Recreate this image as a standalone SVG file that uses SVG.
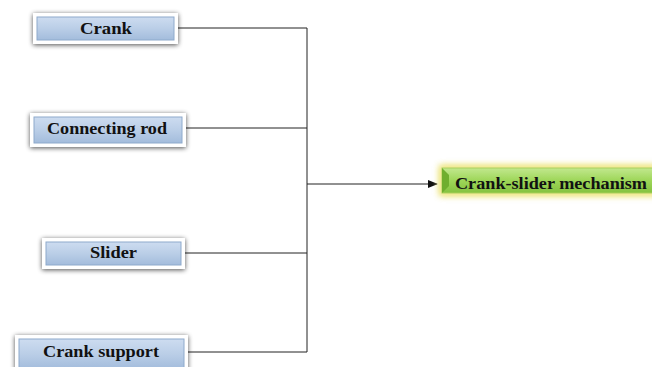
<svg xmlns="http://www.w3.org/2000/svg" width="652" height="367" viewBox="0 0 652 367">
<style>
.frame{fill:#ffffff;filter:url(#sh)}
.blue{fill:url(#bg);stroke:#8eaacc;stroke-width:1}
.lbl{font-family:"Liberation Serif","Times New Roman",serif;font-weight:bold;font-size:16px;fill:#111;text-anchor:middle}
.conn{fill:none;stroke:#222;stroke-width:1}
</style>
<defs>
<filter id="sh" x="-20%" y="-50%" width="140%" height="200%">
<feGaussianBlur in="SourceAlpha" stdDeviation="2.5"/>
<feOffset dx="0" dy="1" result="b"/>
<feComponentTransfer><feFuncA type="linear" slope="0.7"/></feComponentTransfer>
<feMerge><feMergeNode/><feMergeNode in="SourceGraphic"/></feMerge>
</filter>
<filter id="glow" x="-20%" y="-80%" width="140%" height="260%">
<feFlood flood-color="#efe78a"/>
<feComposite operator="in" in2="SourceAlpha"/>
<feMorphology operator="dilate" radius="2"/>
<feGaussianBlur stdDeviation="3"/>
<feMerge><feMergeNode/><feMergeNode/><feMergeNode in="SourceGraphic"/></feMerge>
</filter>
<linearGradient id="bg" x1="0" y1="0" x2="0" y2="1">
<stop offset="0" stop-color="#cddcf0"/>
<stop offset="0.5" stop-color="#bacee7"/>
<stop offset="1" stop-color="#a3bcdc"/>
</linearGradient>
<linearGradient id="gg" x1="0" y1="0" x2="0" y2="1">
<stop offset="0" stop-color="#c2e88e"/>
<stop offset="0.5" stop-color="#9ed659"/>
<stop offset="1" stop-color="#84c23f"/>
</linearGradient>
<marker id="arr" markerWidth="10" markerHeight="8" refX="9" refY="4" orient="auto" markerUnits="userSpaceOnUse">
<path d="M0,0 L10,4 L0,8 Z" fill="#111"/>
</marker>
</defs>
<g id="connectors">
<path class="conn" d="M178,28 H307 M186,128 H307 M185,253 H307 M188,352 H307 M307,28 V352"/>
<path class="conn" d="M307,184 H437" marker-end="url(#arr)"/>
</g>
<g id="crank">
<rect class="frame" x="33" y="13" width="145" height="31"/>
<rect class="blue" x="37" y="17" width="137" height="23"/>
<text class="lbl" x="106" y="34" textLength="52" lengthAdjust="spacingAndGlyphs">Crank</text>
</g>
<g id="connecting-rod">
<rect class="frame" x="30" y="113" width="156" height="34"/>
<rect class="blue" x="34" y="117" width="148" height="26"/>
<text class="lbl" x="107" y="134" textLength="120" lengthAdjust="spacingAndGlyphs">Connecting rod</text>
</g>
<g id="slider">
<rect class="frame" x="42" y="238" width="143" height="31"/>
<rect class="blue" x="46" y="242" width="135" height="23"/>
<text class="lbl" x="113.5" y="258" textLength="47" lengthAdjust="spacingAndGlyphs">Slider</text>
</g>
<g id="crank-support">
<rect class="frame" x="15" y="335" width="173" height="40"/>
<rect class="blue" x="19" y="339" width="165" height="30"/>
<text class="lbl" x="101" y="357" textLength="116" lengthAdjust="spacingAndGlyphs">Crank support</text>
</g>
<g id="crank-slider-mechanism">
<rect x="442" y="168" width="214" height="25" fill="url(#gg)" stroke="#a8cf5a" stroke-width="1" filter="url(#glow)"/>
<path d="M442,168 L449,175 L449,186 L442,193 Z" fill="#6fae2e"/>
<text class="lbl" x="551" y="189" textLength="192" lengthAdjust="spacingAndGlyphs">Crank-slider mechanism</text>
</g>
</svg>
